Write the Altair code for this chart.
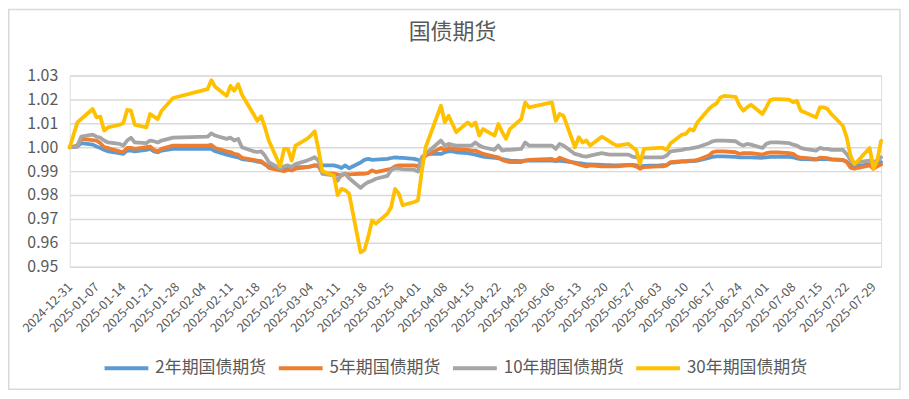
import altair as alt
import pandas as pd

# trading days (China bond futures), 2024-12-31 .. 2025-07-31
holidays = ["2025-01-01", "2025-01-28", "2025-01-29", "2025-01-30", "2025-01-31",
            "2025-02-03", "2025-02-04", "2025-04-04", "2025-05-01", "2025-05-02",
            "2025-05-05", "2025-06-02"]
dates = [d.strftime("%Y-%m-%d") for d in pd.bdate_range("2024-12-31", "2025-07-31")
         if d.strftime("%Y-%m-%d") not in holidays]

series_names = ["2年期国债期货", "5年期国债期货", "10年期国债期货", "30年期国债期货"]
series_colors = ["#5B9BD5", "#ED7D31", "#A5A5A5", "#FFC000"]

tf2y = [
    1.0000, 1.0003, 1.0017, 1.0011, 1.0003, 0.9997, 0.9989, 0.9983, 0.9975, 0.9972,
    0.9986, 0.9986, 0.9983, 0.9989, 0.9993, 0.9983, 0.9979, 0.9986, 0.9993, 0.9993,
    0.9993, 0.9983, 0.9969, 0.9965, 0.9961, 0.9958, 0.9950, 0.9944, 0.9940, 0.9938,
    0.9928, 0.9920, 0.9906, 0.9906, 0.9910, 0.9910, 0.9917, 0.9917, 0.9920, 0.9924,
    0.9924, 0.9924, 0.9924, 0.9920, 0.9913, 0.9924, 0.9912, 0.9936, 0.9947, 0.9951,
    0.9947, 0.9948, 0.9951, 0.9955, 0.9958, 0.9956, 0.9955, 0.9951, 0.9947, 0.9944,
    0.9972, 0.9972, 0.9979, 0.9983, 0.9983, 0.9979, 0.9975, 0.9972, 0.9969, 0.9965,
    0.9961, 0.9956, 0.9953, 0.9950, 0.9947, 0.9944, 0.9942, 0.9944, 0.9944, 0.9944,
    0.9942, 0.9944, 0.9942, 0.9936, 0.9933, 0.9931, 0.9928, 0.9928, 0.9926, 0.9925,
    0.9925, 0.9924, 0.9924, 0.9926, 0.9926, 0.9924, 0.9920, 0.9922, 0.9924, 0.9925,
    0.9926, 0.9935, 0.9940, 0.9940, 0.9942, 0.9942, 0.9944, 0.9955, 0.9960, 0.9962,
    0.9962, 0.9962, 0.9960, 0.9958, 0.9958, 0.9958, 0.9958, 0.9956, 0.9958, 0.9960,
    0.9960, 0.9960, 0.9960, 0.9958, 0.9953, 0.9950, 0.9950, 0.9948, 0.9950, 0.9950,
    0.9950, 0.9948, 0.9946, 0.9940, 0.9925, 0.9920, 0.9922, 0.9928, 0.9935, 0.9935,
    0.9938,
]

tf5y = [
    1.0000, 1.0007, 1.0035, 1.0030, 1.0028, 1.0017, 1.0000, 0.9997, 0.9983, 0.9980,
    0.9997, 0.9997, 0.9993, 1.0000, 1.0003, 0.9989, 0.9983, 0.9993, 1.0007, 1.0007,
    1.0010, 0.9997, 0.9983, 0.9980, 0.9972, 0.9969, 0.9956, 0.9947, 0.9944, 0.9942,
    0.9930, 0.9914, 0.9903, 0.9900, 0.9906, 0.9903, 0.9910, 0.9917, 0.9920, 0.9924,
    0.9920, 0.9892, 0.9889, 0.9886, 0.9882, 0.9889, 0.9886, 0.9889, 0.9889, 0.9892,
    0.9903, 0.9896, 0.9906, 0.9910, 0.9920, 0.9924, 0.9924, 0.9924, 0.9920, 0.9944,
    0.9965, 0.9997, 0.9989, 0.9997, 0.9993, 0.9993, 0.9989, 0.9986, 0.9986, 0.9979,
    0.9972, 0.9961, 0.9958, 0.9947, 0.9942, 0.9938, 0.9938, 0.9944, 0.9947, 0.9951,
    0.9944, 0.9956, 0.9950, 0.9933, 0.9928, 0.9924, 0.9920, 0.9924, 0.9920, 0.9920,
    0.9920, 0.9920, 0.9920, 0.9924, 0.9924, 0.9920, 0.9910, 0.9917, 0.9920, 0.9920,
    0.9924, 0.9938, 0.9942, 0.9942, 0.9944, 0.9944, 0.9947, 0.9965, 0.9979, 0.9983,
    0.9983, 0.9983, 0.9979, 0.9972, 0.9975, 0.9975, 0.9975, 0.9969, 0.9975, 0.9978,
    0.9978, 0.9978, 0.9975, 0.9972, 0.9961, 0.9956, 0.9955, 0.9950, 0.9956, 0.9955,
    0.9954, 0.9950, 0.9947, 0.9938, 0.9914, 0.9910, 0.9914, 0.9924, 0.9910, 0.9920,
    0.9928,
]

tf10y = [
    1.0000, 1.0003, 1.0044, 1.0053, 1.0044, 1.0040, 1.0028, 1.0020, 1.0014, 1.0007,
    1.0028, 1.0040, 1.0020, 1.0017, 1.0028, 1.0025, 1.0020, 1.0028, 1.0040, 1.0044,
    1.0058, 1.0049, 1.0035, 1.0040, 1.0028, 1.0035, 1.0000, 0.9983, 0.9980, 0.9983,
    0.9965, 0.9938, 0.9910, 0.9920, 0.9924, 0.9917, 0.9930, 0.9944, 0.9951, 0.9958,
    0.9944, 0.9889, 0.9882, 0.9860, 0.9886, 0.9889, 0.9870, 0.9830, 0.9844, 0.9854,
    0.9860, 0.9868, 0.9880, 0.9905, 0.9912, 0.9910, 0.9908, 0.9906, 0.9898, 0.9958,
    0.9972, 1.0028, 1.0007, 1.0014, 1.0010, 1.0007, 1.0007, 1.0007, 1.0020, 1.0007,
    1.0000, 0.9989, 1.0007, 0.9986, 0.9989, 0.9989, 0.9993, 1.0020, 1.0007, 1.0007,
    0.9993, 1.0014, 1.0007, 0.9972, 0.9968, 0.9963, 0.9961, 0.9965, 0.9975, 0.9972,
    0.9969, 0.9969, 0.9969, 0.9969, 0.9961, 0.9958, 0.9956, 0.9958, 0.9958, 0.9958,
    0.9965, 0.9983, 0.9989, 0.9993, 0.9994, 0.9997, 1.0000, 1.0017, 1.0025, 1.0028,
    1.0028, 1.0028, 1.0025, 1.0014, 1.0007, 1.0014, 1.0011, 0.9997, 1.0014, 1.0020,
    1.0020, 1.0020, 1.0017, 1.0011, 1.0007, 0.9997, 0.9993, 0.9986, 0.9997, 0.9993,
    0.9993, 0.9989, 0.9989, 0.9972, 0.9947, 0.9930, 0.9938, 0.9944, 0.9938, 0.9944,
    0.9958,
]

tf30y = [
    1.0000, 1.0104, 1.0118, 1.0160, 1.0125, 1.0128, 1.0070, 1.0083, 1.0094, 1.0100,
    1.0156, 1.0153, 1.0094, 1.0083, 1.0139, 1.0128, 1.0118, 1.0153, 1.0206, 1.0243,
    1.0280, 1.0253, 1.0215, 1.0257, 1.0236, 1.0264, 1.0220, 1.0139, 1.0110, 1.0130,
    1.0083, 1.0028, 0.9920, 0.9993, 0.9993, 0.9944, 1.0007, 1.0035, 1.0049, 1.0067,
    0.9990, 0.9900, 0.9882, 0.9800, 0.9826, 0.9820, 0.9806, 0.9560, 0.9570, 0.9625,
    0.9694, 0.9680, 0.9722, 0.9750, 0.9826, 0.9806, 0.9757, 0.9771, 0.9778, 0.9900,
    1.0000, 1.0174, 1.0104, 1.0132, 1.0097, 1.0063, 1.0104, 1.0090, 1.0104, 1.0049,
    1.0076, 1.0049, 1.0097, 1.0063, 1.0035, 1.0076, 1.0118, 1.0188, 1.0167, 1.0188,
    1.0110, 1.0139, 1.0132, 1.0000, 1.0042, 1.0020, 1.0028, 1.0007, 1.0044, 1.0035,
    1.0025, 1.0014, 1.0007, 1.0014, 1.0000, 0.9989, 0.9930, 0.9993, 0.9997, 0.9997,
    0.9989, 1.0017, 1.0053, 1.0056, 1.0076, 1.0070, 1.0104, 1.0160, 1.0174, 1.0183,
    1.0208, 1.0215, 1.0211, 1.0174, 1.0153, 1.0167, 1.0178, 1.0139, 1.0167, 1.0197,
    1.0201, 1.0201, 1.0199, 1.0188, 1.0194, 1.0153, 1.0146, 1.0125, 1.0167, 1.0167,
    1.0160, 1.0139, 1.0090, 1.0042, 0.9965, 0.9930, 0.9944, 0.9997, 0.9910, 0.9944,
    1.0028,
]

y_ticks = [0.95, 0.96, 0.97, 0.98, 0.99, 1.00, 1.01, 1.02, 1.03]
x_tick_dates = [d.strftime("%Y-%m-%d") for d in pd.date_range("2024-12-31", "2025-07-29", freq="7D")]

# ---- build long table ----
rows = []
for name, vals in zip(series_names, [tf2y, tf5y, tf10y, tf30y]):
    for d, v in zip(dates, vals):
        rows.append({"date": d, "value": v, "series": name})
df = pd.DataFrame(rows)

def ms(d):
    return int(pd.Timestamp(d, tz="UTC").timestamp() * 1000)

x_tick_values = [ms(d) for d in x_tick_dates]
x_domain = [ms(dates[0]), ms(dates[-1])]

FONT = "Noto Sans CJK SC"
TXT = "#595959"
W, H = 815, 192

lines = alt.Chart(df).mark_line(strokeWidth=3.8, strokeJoin="round", strokeCap="round").encode(
    x=alt.X("date:T",
            scale=alt.Scale(type="utc", domain=x_domain, nice=False),
            axis=alt.Axis(values=x_tick_values, labelExpr="utcFormat(datum.value, '%Y-%m-%d')",
                          labelAngle=-45, labelAlign="right", labelBaseline="middle",
                          labelFontSize=12.5, labelColor=TXT, labelFont=FONT,
                          labelPadding=18, ticks=False, domain=False, grid=False,
                          labelOverlap=False, labelBound=False, title=None)),
    y=alt.Y("value:Q",
            scale=alt.Scale(domain=[0.95, 1.03], nice=False, zero=False),
            axis=alt.Axis(values=y_ticks, format=".2f", labelFontSize=16, labelColor=TXT,
                          labelFont=FONT, labelPadding=12, ticks=False, domain=False,
                          grid=True, gridColor="#d9d9d9", gridWidth=1.5, title=None)),
    color=alt.Color("series:N",
                    scale=alt.Scale(domain=series_names, range=series_colors),
                    sort=series_names,
                    legend=alt.Legend(orient="none", legendX=33, legendY=270,
                                      direction="horizontal", title=None,
                                      symbolType="stroke", symbolStrokeWidth=4,
                                      symbolSize=1936, labelFontSize=17, labelColor=TXT,
                                      labelFont=FONT, labelOffset=5, columnPadding=4,
                                      padding=0)),
    order=alt.Order("date:T"),
)

frame = alt.Chart(alt.Data(values=[{"f": 1}])).mark_rect(
    fillOpacity=0, stroke="#d9d9d9", strokeWidth=1.5
).encode(
    x=alt.value(-61.25), x2=alt.value(W + 19), y=alt.value(-66.25), y2=alt.value(H + 123)
)

chart = alt.layer(frame, lines).properties(
    width=W, height=H,
    title=alt.TitleParams("国债期货", fontSize=22, color=TXT, font=FONT, fontWeight="normal",
                          anchor="middle", dx=-23, offset=-35),
    autosize=alt.AutoSizeParams(type="none"),
    padding={"left": 62, "top": 67, "right": 20, "bottom": 124},
).configure_view(stroke=None).configure(background="white")

chart.save("out.html", embed_options={"renderer": "svg", "actions": False})
